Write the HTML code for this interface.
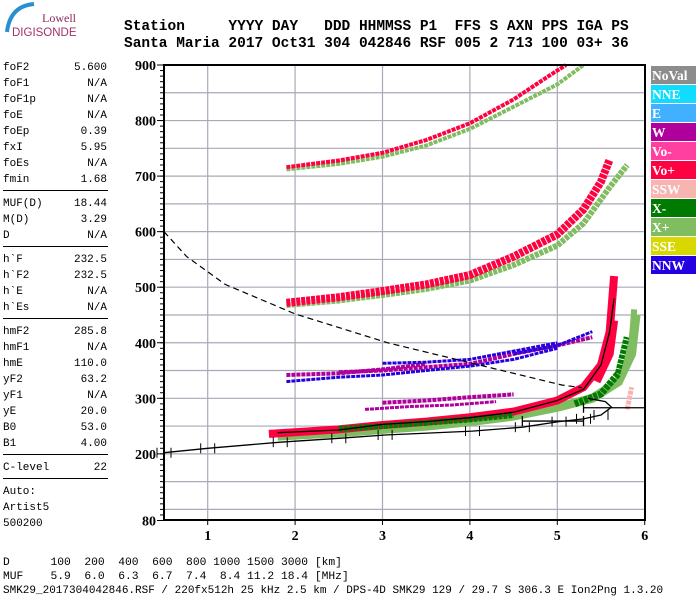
<!DOCTYPE html>
<html><head><meta charset="utf-8"><style>
body{margin:0;background:#fff;width:700px;height:600px;overflow:hidden;position:relative;font-family:"Liberation Mono",monospace}
.t{position:absolute;white-space:pre;color:#000}
.lp{font-size:11px;line-height:16px}
.hd{font-size:14.5px;font-weight:bold}
.bt{font-size:11.3px}
</style></head><body>
<svg width="90" height="45" style="position:absolute;left:0;top:0">
<path d="M34 4 Q10 6 7 32" stroke="#2a8fd0" stroke-width="4" fill="none"/>
<text x="42" y="22" font-family="Liberation Serif,serif" font-size="12" fill="#8b2a5a">Lowell</text>
<text x="12" y="36" font-family="Liberation Sans,sans-serif" font-size="11.5" fill="#a03068">DIGISONDE</text>
</svg>
<div class="t hd" style="left:124px;top:19px">Station     YYYY DAY   DDD HHMMSS P1  FFS S AXN PPS IGA PS</div>
<div class="t hd" style="left:124px;top:36px">Santa Maria 2017 Oct31 304 042846 RSF 005 2 713 100 03+ 36</div>
<div id="lp"></div>
<div class="t bt" style="left:3px;top:557px">D      100  200  400  600  800 1000 1500 3000 [km]</div>
<div class="t bt" style="left:3px;top:571px">MUF    5.9  6.0  6.3  6.7  7.4  8.4 11.2 18.4 [MHz]</div>
<div class="t bt" style="left:3px;top:585px;font-size:11px">SMK29_2017304042846.RSF / 220fx512h 25 kHz 2.5 km / DPS-4D SMK29 129 / 29.7 S 306.3 E Ion2Png 1.3.20</div>
<svg id="ch" width="700" height="600" style="position:absolute;left:0;top:0"></svg>
<script>
const params=[["foF2","5.600"],["foF1","N/A"],["foF1p","N/A"],["foE","N/A"],["foEp","0.39"],["fxI","5.95"],["foEs","N/A"],["fmin","1.68"],null,["MUF(D)","18.44"],["M(D)","3.29"],["D","N/A"],null,["h`F","232.5"],["h`F2","232.5"],["h`E","N/A"],["h`Es","N/A"],null,["hmF2","285.8"],["hmF1","N/A"],["hmE","110.0"],["yF2","63.2"],["yF1","N/A"],["yE","20.0"],["B0","53.0"],["B1","4.00"],null,["C-level","22"],null,["Auto:",""],["Artist5",""],["500200",""]];
const xTicks=[1,2,3,4,5,6];
const yLabels=[900,800,700,600,500,400,300,200,80];
const legendNames=["NoVal","NNE","E","W","Vo-","Vo+","SSW","X-","X+","SSE","NNW"];
const legendColors=["#8c8c8c","#10dcff","#40b0ff","#b0009c","#ff40a0","#ff0040","#f8b4b0","#007a00","#80bc60","#d8d800","#2400e0"];
const traceColors=["#80bc60","#ff0040","#007a00","#80bc60","#ff0040","#80bc60","#ff0040","#b0009c","#2400e0","#b0009c","#b0009c","#2400e0","#007a00","#f8b4b0","#b0009c","#2400e0","#ff0040","#80bc60"];
const traceWidths=[9,8,7,6,8,4,4,4,3,4,4,3,6,5,3,3,8,6];
const tracePoints=[
 [[1.8,232],[2.5,238],[3,244],[3.5,250],[4,258],[4.5,268],[5,284],[5.4,300],[5.7,330],[5.85,380],[5.9,450]],
 [[1.7,236],[2,239],[2.5,244],[3,252],[3.5,258],[4,266],[4.5,276],[5,296],[5.3,320],[5.5,360],[5.6,420],[5.65,520]],
 [[5.2,290],[5.5,308],[5.7,345],[5.8,410]],
 [[1.9,468],[2.5,476],[3,486],[3.5,497],[4,512],[4.5,540],[5,575],[5.3,615],[5.6,680],[5.8,720]],
 [[1.9,472],[2.5,482],[3,493],[3.5,505],[4,522],[4.5,555],[5,595],[5.3,640],[5.5,690],[5.6,730]],
 [[1.9,712],[2.5,722],[3,735],[3.5,755],[4,785],[4.5,825],[5,865],[5.3,900]],
 [[1.9,716],[2.5,728],[3,742],[3.5,765],[4,795],[4.5,838],[4.9,880],[5.1,900]],
 [[2.5,347],[3,350],[3.5,356],[4,362],[4.5,380],[5,395],[5.4,410]],
 [[1.9,330],[2.5,338],[3,342],[3.5,350],[4,358],[4.5,370],[5,390]],
 [[3,292],[3.5,296],[4,302],[4.5,307]],
 [[1.9,342],[2.5,345],[3,352],[3.5,362]],
 [[4.5,380],[5,395],[5.4,420]],
 [[2.5,245],[3,250],[4,262],[4.5,270]],
 [[5.8,280],[5.85,320]],
 [[2.8,280],[3.3,285],[3.8,288],[4.3,294]],
 [[3,363],[3.5,365],[4,370],[4.5,385],[5,400]],
 [[5.45,330],[5.6,380],[5.65,440]],
 [[5.75,340],[5.85,400],[5.88,460]]];
const dashedCurve=[[0.5,600],[0.76,555],[1.2,505],[2,452],[3.06,400],[4,364],[5.05,324],[5.28,319]];
const profileCurve=[[0.5,202],[1,210],[1.83,221],[2.5,228],[3.03,234],[4.03,241],[4.6,248],[5.02,258],[5.3,263],[5.5,270],[5.62,284],[5.55,294],[5.35,300]];
const fitLine=[[1.8,238],[2.5,243],[3,253],[3.5,258],[4,265],[4.5,275],[5,296],[5.3,316],[5.5,360],[5.6,420],[5.65,480]];
const errBars=[[5.3,6.0,283],[4.6,5.3,259]];

const lp=document.getElementById('lp');let y=60;
params.forEach(p=>{
 if(!p){const l=document.createElement('div');l.style.cssText=`position:absolute;left:3px;top:${y+2}px;width:105px;height:0;border-top:1.5px solid #000`;
 
 
 lp.appendChild(l);y+=8;return;}
 const a=document.createElement('div');a.className='t lp';a.style.left='3px';a.style.top=y+'px';a.textContent=p[0];
 
 
 lp.appendChild(a);
 const b=document.createElement('div');b.className='t lp';b.style.right=(700-107)+'px';b.style.top=y+'px';b.textContent=p[1];
 
 
 lp.appendChild(b);y+=16;});

const NS="http://www.w3.org/2000/svg",svg=document.getElementById('ch');
const X0=164,X1=645,Y0=65,Y1=520;
const xs=f=>X0+(f-0.5)*87.4, ys=h=>Y0+(900-h)*0.5555;
function el(t,a){const e=document.createElementNS(NS,t);for(const k in a)e.setAttribute(k,a[k]);svg.appendChild(e);return e;}
for(let h=100;h<900;h+=50){const g=el('line',{x1:X0,x2:X1,y1:ys(h),y2:ys(h),stroke:'#a8aab8','stroke-width':1.2});
 
 }
xTicks.slice(0,5).forEach(f=>{const g=el('line',{x1:xs(f),x2:xs(f),y1:Y0,y2:Y1,stroke:'#a8aab8','stroke-width':1.2});
 
 });
for(let h=90;h<=900;h+=10){const t=el('line',{x1:X0-4,x2:X0,y1:ys(h),y2:ys(h),stroke:'#000'});
 
 }
yLabels.forEach(h=>{const t=el('text',{x:X0-8,y:ys(h)+5,'text-anchor':'end','font-family':'Liberation Serif,serif','font-weight':'bold','font-size':14});t.textContent=h;
 
 
 const k=el('line',{x1:X0-7,x2:X0,y1:ys(h),y2:ys(h),stroke:'#000'});
 
 });
xTicks.forEach(f=>{const t=el('text',{x:xs(f),y:Y1+20,'text-anchor':'middle','font-family':'Liberation Serif,serif','font-weight':'bold','font-size':14});t.textContent=f;
 
 
 const k=el('line',{x1:xs(f),x2:xs(f),y1:Y1,y2:Y1+5,stroke:'#000'});
 
 });
const pts=a=>a.map(p=>xs(p[0]).toFixed(1)+','+ys(p[1]).toFixed(1)).join(' ');
tracePoints.forEach((tp,i)=>{const p=el('polyline',{points:pts(tp),fill:'none',stroke:traceColors[i],'stroke-width':traceWidths[i],'stroke-dasharray':(i<2||i>15)?'none':'4 1'});
 
 });
const d=el('polyline',{points:pts(dashedCurve),fill:'none',stroke:'#000','stroke-width':1.2,'stroke-dasharray':'6 4'});


const pr=el('polyline',{points:pts(profileCurve),fill:'none',stroke:'#000','stroke-width':1.3});


for(let i=0;i<profileCurve.length-3;i++){const p=profileCurve[i];for(const df of [-0.08,0.08]){const fx=p[0]+df;const t=el('line',{x1:xs(fx),x2:xs(fx),y1:ys(p[1])-5,y2:ys(p[1])+5,stroke:'#000'});
 
 }}
const fl=el('polyline',{points:pts(fitLine),fill:'none',stroke:'#000','stroke-width':1.3});


errBars.forEach(b=>{const g=el('path',{d:`M${xs(b[0])} ${ys(b[2])}H${xs(b[1])}M${xs(b[0])} ${ys(b[2])-5}v10M${xs(b[1])} ${ys(b[2])-5}v10`,stroke:'#000','stroke-width':1.3,fill:'none'});
 
 });
const fr=el('rect',{x:X0,y:Y0,width:X1-X0,height:Y1-Y0,fill:'none',stroke:'#000','stroke-width':2});


legendNames.forEach((n,i)=>{const yy=66+i*19;const r=el('rect',{x:651,y:yy,width:45,height:18,fill:legendColors[i]});
 
 
 const t=el('text',{x:652,y:yy+14,fill:'#fff','font-family':'Liberation Serif,serif','font-weight':'bold','font-size':13.5});t.textContent=n;
 
 });
</script>
</body></html>
